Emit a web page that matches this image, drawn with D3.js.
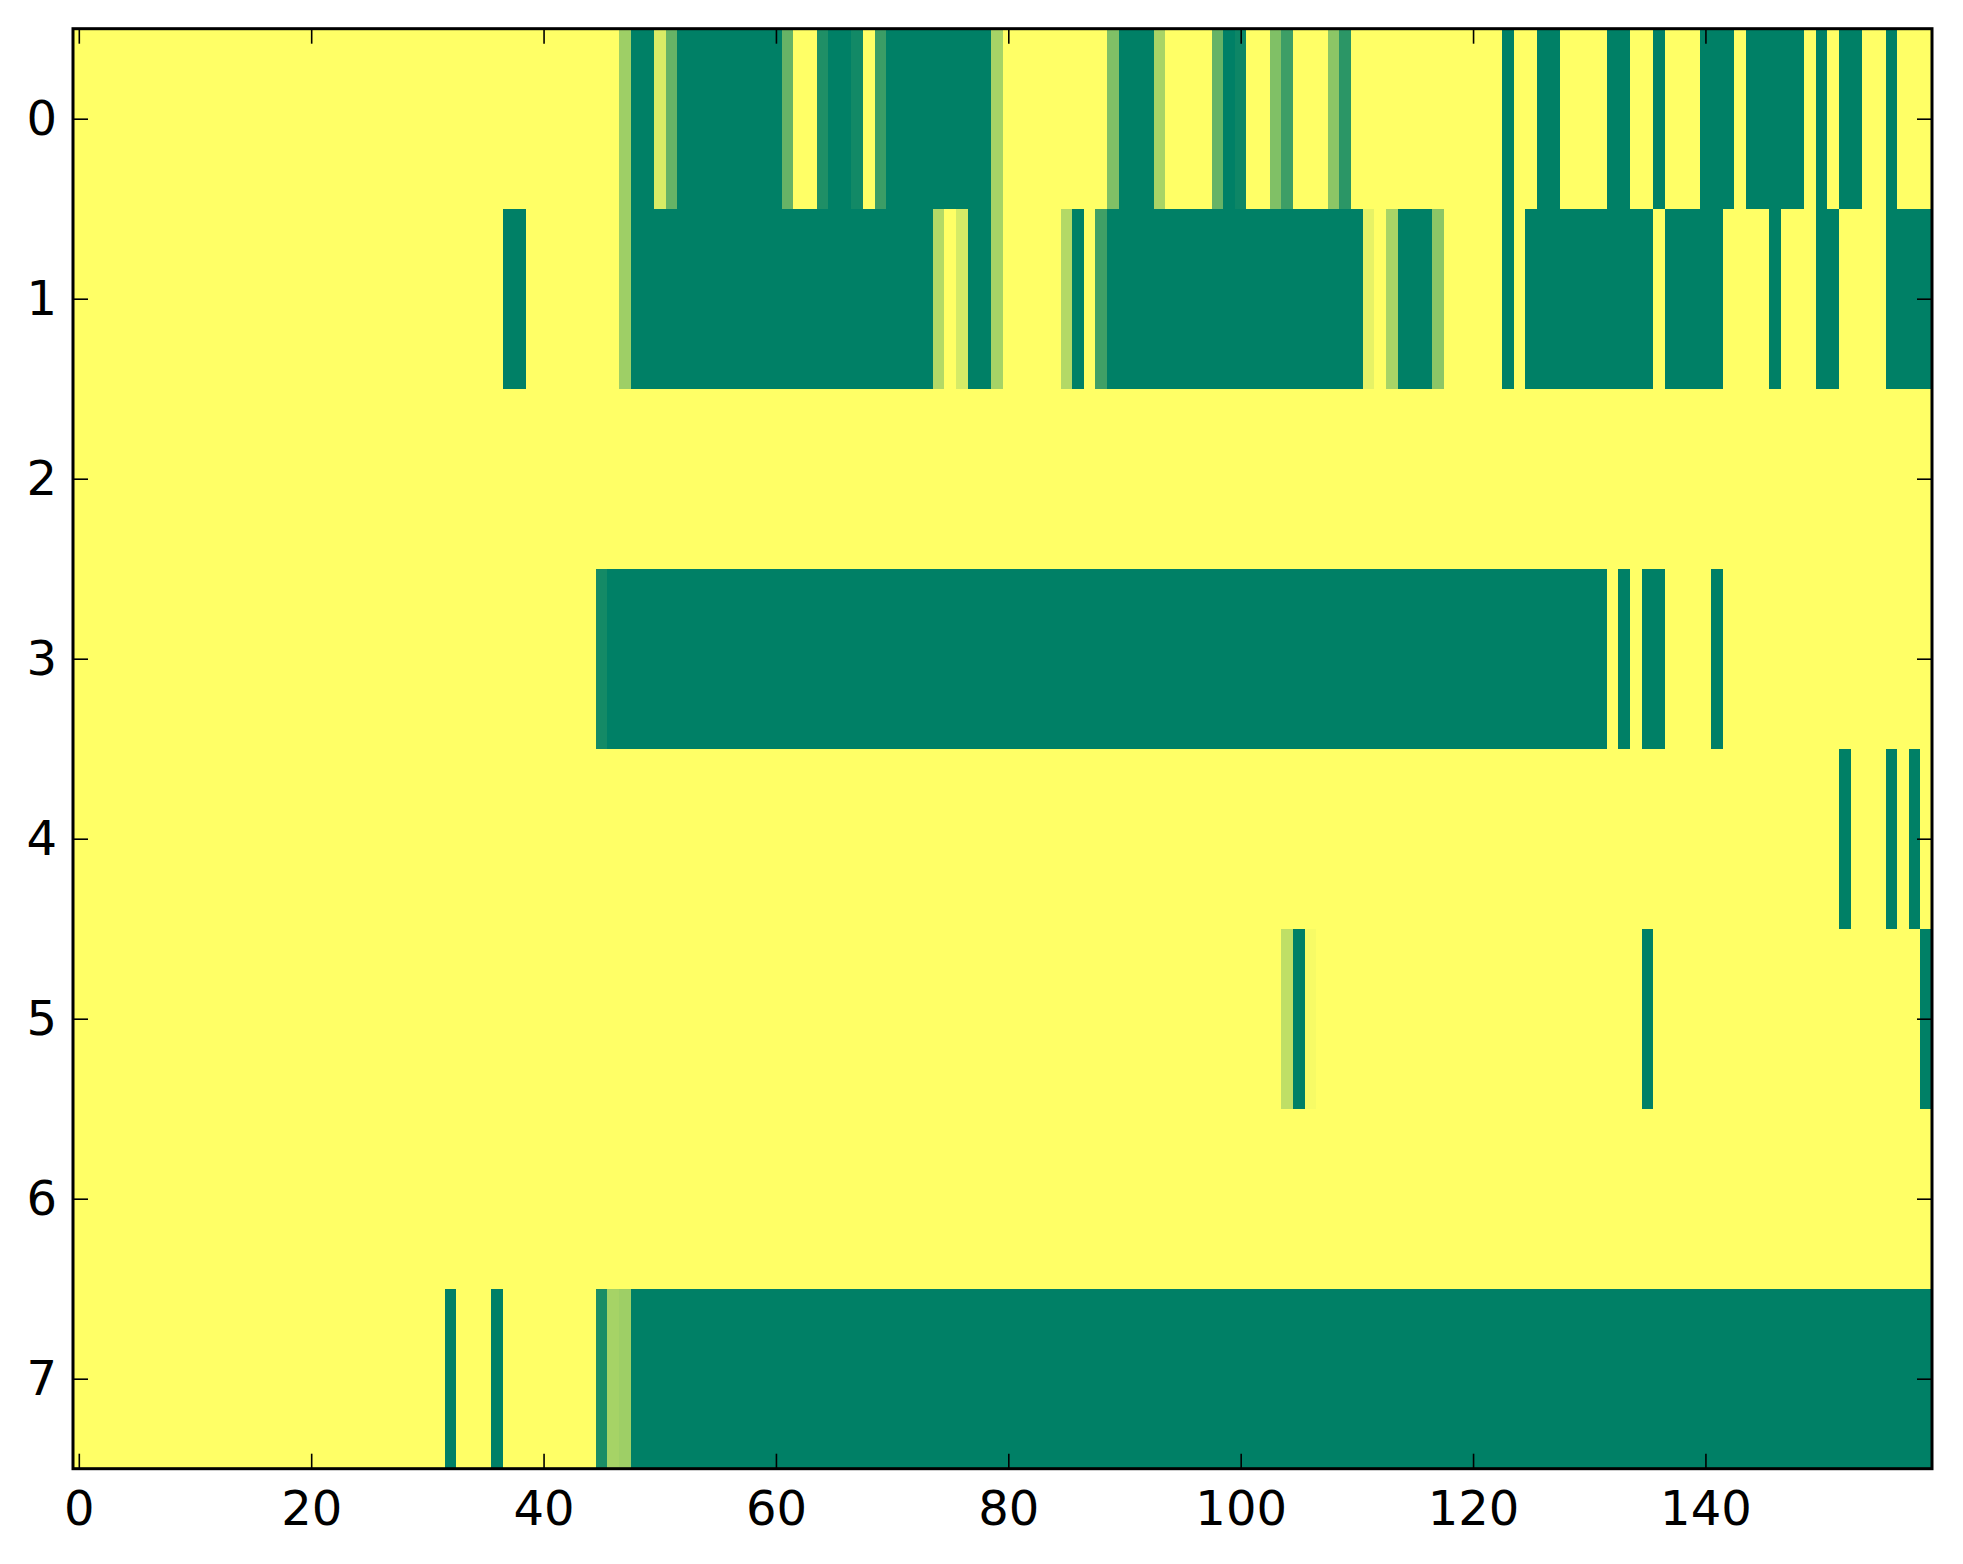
<!DOCTYPE html>
<meta charset="utf-8">
<head>
  <title>Heatmap</title>
  <script src="https://cdn.jsdelivr.net/npm/d3@7"></script>
  <style>
    body { margin: 0; background: #fff; }
    .tick text { font-family: "DejaVu Sans", sans-serif; font-size: 48px; fill: #000; }
    .tick line { stroke: #000; stroke-width: 1.6; }
  </style>
</head>
<body>
<div id="heatmap"></div>
<script>
// one array per row, 160 columns each (0 = yellow, 1 = green)
var row0 = [
  0,0,0,0,0,0,0,0,0,0,0,0,0,0,0,0,0,0,0,0,
  0,0,0,0,0,0,0,0,0,0,0,0,0,0,0,0,0,0,0,0,
  0,0,0,0,0,0,0,.38,1,1,.15,.6,1,1,1,1,1,1,1,1,
  1,.6,0,0,.88,1,1,.93,0,.77,1,1,1,1,1,1,1,1,1,.35,
  0,0,0,0,0,0,0,0,0,.5,1,1,1,.34,0,0,0,0,.6,1,
  .95,0,0,.5,.76,0,0,0,.45,.83,0,0,0,0,0,0,0,0,0,0,
  0,0,0,1,0,0,1,1,0,0,0,0,1,1,0,0,1,0,0,0,
  1,1,1,0,1,1,1,1,1,0,1,0,1,1,0,0,1,0,0,0
];
var row1 = [
  0,0,0,0,0,0,0,0,0,0,0,0,0,0,0,0,0,0,0,0,
  0,0,0,0,0,0,0,0,0,0,0,0,0,0,0,0,0,1,1,0,
  0,0,0,0,0,0,0,.38,1,1,1,1,1,1,1,1,1,1,1,1,
  1,1,1,1,1,1,1,1,1,1,1,1,1,1,.3,0,.16,1,1,.35,
  0,0,0,0,0,.3,1,0,.75,1,1,1,1,1,1,1,1,1,1,1,
  1,1,1,1,1,1,1,1,1,1,1,.1,0,.34,1,1,1,.45,0,0,
  0,0,0,1,0,1,1,1,1,1,1,1,1,1,1,1,0,1,1,1,
  1,1,0,0,0,0,1,0,0,0,1,1,0,0,0,0,1,1,1,1
];
var row2 = [
  0,0,0,0,0,0,0,0,0,0,0,0,0,0,0,0,0,0,0,0,
  0,0,0,0,0,0,0,0,0,0,0,0,0,0,0,0,0,0,0,0,
  0,0,0,0,0,0,0,0,0,0,0,0,0,0,0,0,0,0,0,0,
  0,0,0,0,0,0,0,0,0,0,0,0,0,0,0,0,0,0,0,0,
  0,0,0,0,0,0,0,0,0,0,0,0,0,0,0,0,0,0,0,0,
  0,0,0,0,0,0,0,0,0,0,0,0,0,0,0,0,0,0,0,0,
  0,0,0,0,0,0,0,0,0,0,0,0,0,0,0,0,0,0,0,0,
  0,0,0,0,0,0,0,0,0,0,0,0,0,0,0,0,0,0,0,0
];
var row3 = [
  0,0,0,0,0,0,0,0,0,0,0,0,0,0,0,0,0,0,0,0,
  0,0,0,0,0,0,0,0,0,0,0,0,0,0,0,0,0,0,0,0,
  0,0,0,0,0,.92,1,1,1,1,1,1,1,1,1,1,1,1,1,1,
  1,1,1,1,1,1,1,1,1,1,1,1,1,1,1,1,1,1,1,1,
  1,1,1,1,1,1,1,1,1,1,1,1,1,1,1,1,1,1,1,1,
  1,1,1,1,1,1,1,1,1,1,1,1,1,1,1,1,1,1,1,1,
  1,1,1,1,1,1,1,1,1,1,1,1,0,1,0,1,1,0,0,0,
  0,1,0,0,0,0,0,0,0,0,0,0,0,0,0,0,0,0,0,0
];
var row4 = [
  0,0,0,0,0,0,0,0,0,0,0,0,0,0,0,0,0,0,0,0,
  0,0,0,0,0,0,0,0,0,0,0,0,0,0,0,0,0,0,0,0,
  0,0,0,0,0,0,0,0,0,0,0,0,0,0,0,0,0,0,0,0,
  0,0,0,0,0,0,0,0,0,0,0,0,0,0,0,0,0,0,0,0,
  0,0,0,0,0,0,0,0,0,0,0,0,0,0,0,0,0,0,0,0,
  0,0,0,0,0,0,0,0,0,0,0,0,0,0,0,0,0,0,0,0,
  0,0,0,0,0,0,0,0,0,0,0,0,0,0,0,0,0,0,0,0,
  0,0,0,0,0,0,0,0,0,0,0,0,1,0,0,0,1,0,1,0
];
var row5 = [
  0,0,0,0,0,0,0,0,0,0,0,0,0,0,0,0,0,0,0,0,
  0,0,0,0,0,0,0,0,0,0,0,0,0,0,0,0,0,0,0,0,
  0,0,0,0,0,0,0,0,0,0,0,0,0,0,0,0,0,0,0,0,
  0,0,0,0,0,0,0,0,0,0,0,0,0,0,0,0,0,0,0,0,
  0,0,0,0,0,0,0,0,0,0,0,0,0,0,0,0,0,0,0,0,
  0,0,0,0,.25,1,.03,0,0,0,0,0,0,0,0,0,0,0,0,0,
  0,0,0,0,0,0,0,0,0,0,0,0,0,0,0,1,0,0,0,0,
  0,0,0,0,0,0,0,0,0,0,0,0,0,0,0,0,0,0,0,1
];
var row6 = [
  0,0,0,0,0,0,0,0,0,0,0,0,0,0,0,0,0,0,0,0,
  0,0,0,0,0,0,0,0,0,0,0,0,0,0,0,0,0,0,0,0,
  0,0,0,0,0,0,0,0,0,0,0,0,0,0,0,0,0,0,0,0,
  0,0,0,0,0,0,0,0,0,0,0,0,0,0,0,0,0,0,0,0,
  0,0,0,0,0,0,0,0,0,0,0,0,0,0,0,0,0,0,0,0,
  0,0,0,0,0,0,0,0,0,0,0,0,0,0,0,0,0,0,0,0,
  0,0,0,0,0,0,0,0,0,0,0,0,0,0,0,0,0,0,0,0,
  0,0,0,0,0,0,0,0,0,0,0,0,0,0,0,0,0,0,0,0
];
var row7 = [
  0,0,0,0,0,0,0,0,0,0,0,0,0,0,0,0,0,0,0,0,
  0,0,0,0,0,0,0,0,0,0,0,0,1,0,0,0,1,0,0,0,
  0,0,0,0,0,.9,.35,.38,1,1,1,1,1,1,1,1,1,1,1,1,
  1,1,1,1,1,1,1,1,1,1,1,1,1,1,1,1,1,1,1,1,
  1,1,1,1,1,1,1,1,1,1,1,1,1,1,1,1,1,1,1,1,
  1,1,1,1,1,1,1,1,1,1,1,1,1,1,1,1,1,1,1,1,
  1,1,1,1,1,1,1,1,1,1,1,1,1,1,1,1,1,1,1,1,
  1,1,1,1,1,1,1,1,1,1,1,1,1,1,1,1,1,1,1,1
];
var rows = [row0, row1, row2, row3, row4, row5, row6, row7];

var xTicks = [0, 20, 40, 60, 80, 100, 120, 140];
var yTicks = [0, 1, 2, 3, 4, 5, 6, 7];

var width = 1963, height = 1564;
var margin = { top: 28.7, right: 31, bottom: 95.3, left: 73 };
var plotW = width - margin.left - margin.right;
var plotH = height - margin.top - margin.bottom;

var svg = d3.select("#heatmap")
  .append("svg")
  .attr("width", width)
  .attr("height", height)
  .append("g")
  .attr("transform", "translate(" + margin.left + "," + margin.top + ")");

var nCols = rows[0].length;
var x = d3.scaleLinear().domain([-0.5, nCols - 0.5]).range([0, plotW]);
var y = d3.scaleLinear().domain([-0.5, rows.length - 0.5]).range([0, plotH]);

// summer_r colormap
var color = d3.scaleLinear().domain([0, 1]).range(["#ffff66", "#008066"]);

var cells = [];
rows.forEach(function (r, i) {
  r.forEach(function (v, j) {
    cells.push({ row: i, col: j, value: v });
  });
});

svg.append("g")
  .attr("shape-rendering", "crispEdges")
  .selectAll("rect")
  .data(cells)
  .enter()
  .append("rect")
  .attr("x", function (d) { return x(d.col - 0.5); })
  .attr("y", function (d) { return y(d.row - 0.5); })
  .attr("width", function (d) { return x(d.col + 0.5) - x(d.col - 0.5) + 0.6; })
  .attr("height", function (d) { return y(d.row + 0.5) - y(d.row - 0.5) + 0.6; })
  .attr("fill", function (d) { return color(d.value); });

var tickLen = 15;

// axes, ticks point inward
svg.append("g")
  .attr("transform", "translate(0," + plotH + ")")
  .call(d3.axisBottom(x).tickValues(xTicks).tickSizeInner(-tickLen).tickSizeOuter(0).tickPadding(22));
svg.append("g")
  .call(d3.axisTop(x).tickValues(xTicks).tickSizeInner(-tickLen).tickSizeOuter(0).tickFormat(""));
svg.append("g")
  .call(d3.axisLeft(y).tickValues(yTicks).tickSizeInner(-tickLen).tickSizeOuter(0).tickPadding(16));
svg.append("g")
  .attr("transform", "translate(" + plotW + ",0)")
  .call(d3.axisRight(y).tickValues(yTicks).tickSizeInner(-tickLen).tickSizeOuter(0).tickFormat(""));

svg.selectAll(".domain").remove();
svg.selectAll(".tick text").attr("font-family", null).attr("font-size", null);

// frame
svg.append("rect")
  .attr("width", plotW)
  .attr("height", plotH)
  .attr("fill", "none")
  .attr("stroke", "#000")
  .attr("stroke-width", 3);
</script>
</body>
</html>
